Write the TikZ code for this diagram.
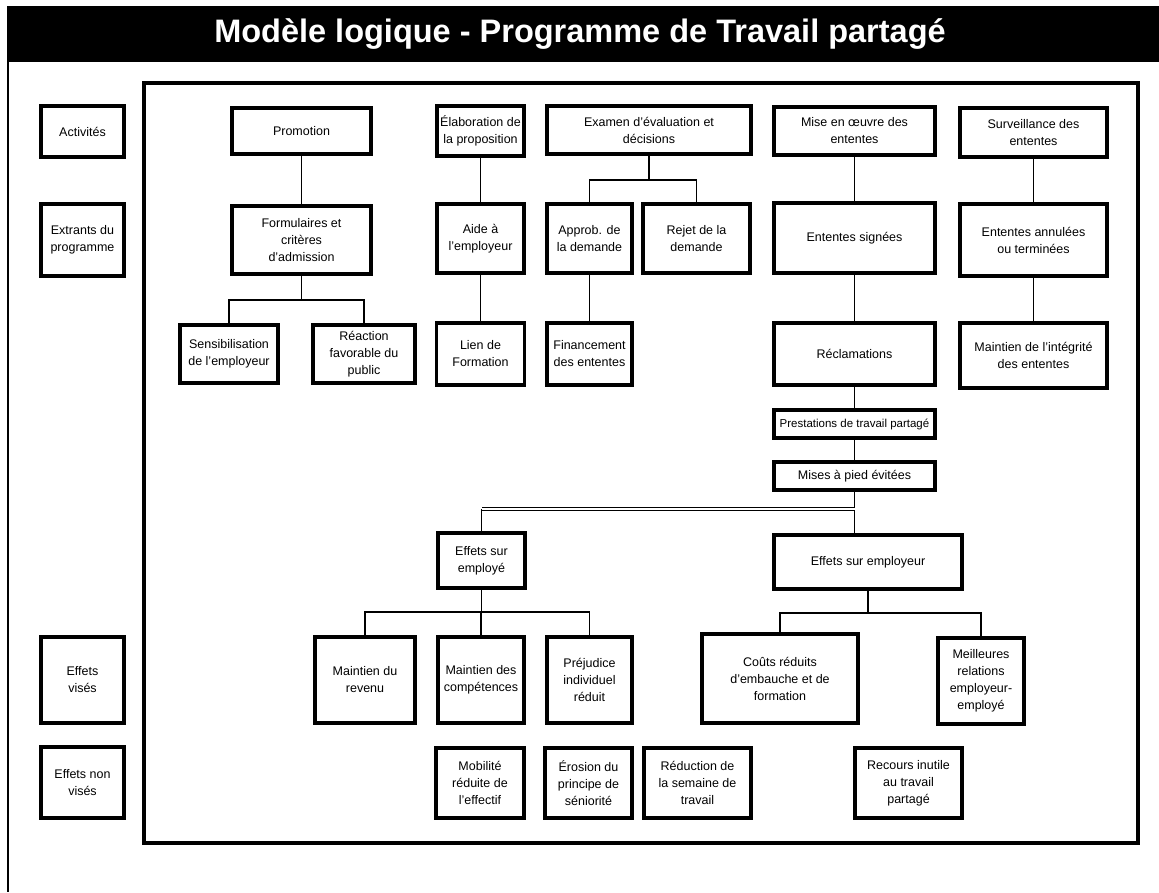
\documentclass[tikz,border=0pt]{standalone}
\usepackage{fontspec}
\setmainfont{Liberation Sans}
\newcommand{\boxfont}{\fontsize{12.5}{17}\selectfont}
\begin{document}
\begin{tikzpicture}[x=1pt,y=-1pt,
    box/.style={draw, line width=3.5pt, align=center, inner sep=0pt, outer sep=0pt, font=\boxfont},
    conn/.style={line width=1.5pt},
    dbl/.style={double, line width=1.2pt, double distance=2pt}]
    \useasboundingbox (0,0) rectangle (1159,892);
    % title bar and frames
    \fill (8,6) rectangle (1159,62);
    \node[text=white, font=\fontsize{32.5}{38}\selectfont\bfseries] (title) at (580,34) {Modèle logique - Programme de Travail partagé};
    \draw[line width=2pt] (8,6) -- (8,892);
    \draw[line width=3.5pt] (144,83) rectangle (1138,843);
    % row labels
    \node[box, minimum width=83, minimum height=51] (act) at (82.5,131.5) {Activités};
    \node[box, minimum width=83, minimum height=72] (ext) at (82.5,240) {Extrants du\\programme};
    \node[box, minimum width=83, minimum height=86] (vis) at (82.5,680) {Effets\\visés};
    \node[box, minimum width=83, minimum height=71] (nvis) at (82.5,782.5) {Effets non\\visés};
    % activities
    \node[box, minimum width=139, minimum height=46] (promo) at (301.5,131) {Promotion};
    \node[box, minimum width=87, minimum height=50] (elab) at (480.5,131) {Élaboration de\\la proposition};
    \node[box, minimum width=204, minimum height=48] (exam) at (649,130) {Examen d'évaluation et\\décisions};
    \node[box, minimum width=161, minimum height=48] (mise) at (854.5,131) {Mise en œuvre des\\ententes};
    \node[box, minimum width=147, minimum height=49] (surv) at (1033.5,132.5) {Surveillance des\\ententes};
    % outputs
    \node[box, minimum width=139, minimum height=68] (form) at (301.5,240) {Formulaires et\\critères\\d'admission};
    \node[box, minimum width=87, minimum height=69] (aide) at (480.5,238.5) {Aide à\\l'employeur};
    \node[box, minimum width=85, minimum height=69] (appr) at (589.5,238.5) {Approb. de\\la demande};
    \node[box, minimum width=107, minimum height=69] (rejet) at (696.5,238.5) {Rejet de la\\demande};
    \node[box, minimum width=161, minimum height=70] (sign) at (854.5,238) {Ententes signées};
    \node[box, minimum width=147, minimum height=72] (annul) at (1033.5,240) {Ententes annulées\\ou terminées};
    \node[box, minimum width=98, minimum height=58] (sens) at (229,354) {Sensibilisation\\de l'employeur};
    \node[box, minimum width=102, minimum height=58] (react) at (364,354) {Réaction\\favorable du\\public};
    \node[box, minimum width=88, minimum height=62] (lien) at (480.5,354) {Lien de\\Formation};
    \node[box, minimum width=85, minimum height=62] (fin) at (589.5,354) {Financement\\des ententes};
    \node[box, minimum width=161, minimum height=62] (recl) at (854.5,354) {Réclamations};
    \node[box, minimum width=147, minimum height=65] (integ) at (1033.5,355.5) {Maintien de l'intégrité\\des ententes};
    \node[box, minimum width=161, minimum height=28, font=\fontsize{11.5}{14}\selectfont] (prest) at (854.5,424) {Prestations de travail partagé};
    \node[box, minimum width=161, minimum height=28] (mises) at (854.5,476) {Mises à pied évitées};
    % intended effects
    \node[box, minimum width=87, minimum height=55] (employe) at (481.5,560.5) {Effets sur\\employé};
    \node[box, minimum width=188, minimum height=54] (employeur) at (868,562) {Effets sur employeur};
    \node[box, minimum width=100, minimum height=86] (revenu) at (365,680) {Maintien du\\revenu};
    \node[box, minimum width=86, minimum height=86] (compet) at (481,680) {Maintien des\\compétences};
    \node[box, minimum width=85, minimum height=86] (prejud) at (589.5,680) {Préjudice\\individuel\\réduit};
    \node[box, minimum width=156, minimum height=89] (couts) at (780,678.5) {Coûts réduits\\d'embauche et de\\formation};
    \node[box, minimum width=86, minimum height=86] (meill) at (981,681) {Meilleures\\relations\\employeur-\\employé};
    % unintended effects
    \node[box, minimum width=88, minimum height=70] (mobil) at (480,783) {Mobilité\\réduite de\\l'effectif};
    \node[box, minimum width=87, minimum height=70] (erosion) at (588.5,783) {Érosion du\\principe de\\séniorité};
    \node[box, minimum width=107, minimum height=70] (reduc) at (697.5,783) {Réduction de\\la semaine de\\travail};
    \node[box, minimum width=107, minimum height=70] (recours) at (908.5,783) {Recours inutile\\au travail\\partagé};
    % connectors
    \draw[conn] (promo) -- (form);
    \draw[conn] (form.south) -- ++(0,26) -| (sens.north);
    \draw[conn] (form.south) ++(0,26) -| (react.north);
    \draw[conn] (elab) -- (aide);
    \draw[conn] (aide) -- (lien);
    \draw[conn] (exam.south) -- ++(0,26) -| (appr.north);
    \draw[conn] (exam.south) ++(0,26) -| (rejet.north);
    \draw[conn] (appr) -- (fin);
    \draw[conn] (mise) -- (sign);
    \draw[conn] (sign) -- (recl);
    \draw[conn] (recl) -- (prest);
    \draw[conn] (prest) -- (mises);
    \draw[conn] (mises.south) -- (mises.south |- employeur.north);
    \draw[conn] (surv) -- (annul);
    \draw[conn] (annul) -- (integ);
    \path (mises.south) ++(0,19) coordinate (split);
    \draw[dbl] (split) -- (employe.north |- split);
    \draw[conn] (employe.north |- split) -- (employe.north);
    \draw[conn] (employe.south) -- ++(0,24) -| (revenu.north);
    \draw[conn] (employe.south) ++(0,24) -| (compet.north);
    \draw[conn] (employe.south) ++(0,24) -| (prejud.north);
    \draw[conn] (employeur.south) -- ++(0,24) -| (couts.north);
    \draw[conn] (employeur.south) ++(0,24) -| (meill.north);
\end{tikzpicture}
\end{document}
